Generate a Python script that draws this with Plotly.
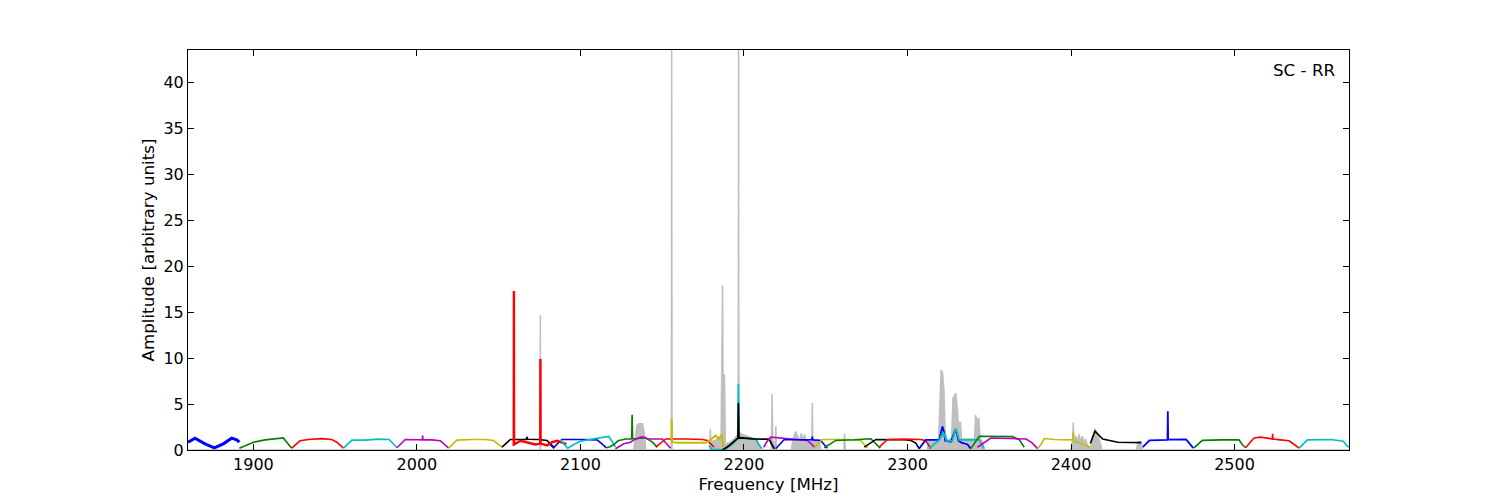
import plotly.graph_objects as go

# raw spectrum (grey, filled)
gray_f = [1860, 2075.3, 2075.5, 2075.7, 2132.5, 2133.5, 2134.5, 2135.5, 2138, 2139, 2140,
          2155.6, 2155.8, 2156.0, 2179, 2179.4, 2179.8, 2183, 2186, 2186.9, 2187.4, 2188.1,
          2188.6, 2192, 2195, 2196.5, 2196.7, 2196.9, 2199, 2202, 2205, 2208, 2210,
          2216.8, 2217.2, 2217.6, 2219.2, 2219.5, 2219.8, 2229, 2230, 2231.5, 2233, 2234,
          2235, 2236, 2237, 2238, 2241.5, 2241.8, 2242.1, 2246, 2247, 2261, 2261.5, 2262,
          2312, 2313, 2319, 2319.8, 2320.6, 2321.4, 2322.3, 2323, 2324, 2327, 2327.8, 2328.6,
          2329.5, 2330.5, 2331, 2332.4, 2333, 2341, 2341.6, 2342.8, 2343.6, 2344.4, 2346, 2347,
          2400, 2401, 2401.4, 2401.8, 2403, 2404, 2405, 2406, 2407, 2408, 2409, 2410, 2412,
          2413, 2414.7, 2417, 2419, 2440, 2441, 2443, 2443.5, 2570]
gray_a = [0, 0, 14.65, 0, 0, 1.4, 2.6, 2.85, 2.85, 1.8, 0,
          0, 45, 0, 0, 2.3, 0.9, 1.1, 1.5, 17.9, 1.2, 8.2,
          0.6, 0.9, 1.4, 1.8, 45, 1.9, 1.7, 1.5, 1.3, 1.0, 0,
          0, 6.1, 0.9, 0.9, 2.6, 0, 0, 1.2, 2.0, 1.5, 1.0,
          1.8, 1.0, 1.7, 1.0, 1.0, 5.1, 1.0, 1.1, 0, 0, 1.8, 0,
          0, 1.0, 1.1, 5.0, 8.7, 8.4, 6.5, 2.0, 1.1, 1.2, 5.6, 5.9,
          6.2, 4.5, 3.0, 3.0, 1.2, 1.2, 3.8, 3.0, 3.5, 1.2, 0.9, 0,
          0, 1.1, 3.0, 1.1, 1.5, 0.9, 1.7, 0.9, 1.5, 0.8, 1.2, 0.5, 0,
          1.4, 2.3, 1.3, 0, 0, 0.9, 0.9, 0, 0]

# corrected channels
ch01_f = [1860, 1864.3, 1870.4, 1876.1, 1881.6, 1886.7, 1889.8, 1891.4]
ch01_a = [0.85, 1.29, 0.67, 0.24, 0.67, 1.29, 1.1, 0.85]
ch02_f = [1891.4, 1894.9, 1900, 1907.1, 1913.2, 1918.3, 1920.4, 1923.4]
ch02_a = [0.2, 0.49, 0.85, 1.1, 1.2, 1.31, 0.85, 0.2]
ch03_f = [1923.4, 1926, 1928.5, 1933.6, 1941.8, 1947.9, 1951, 1955.1]
ch03_a = [0.2, 0.6, 1.0, 1.14, 1.24, 1.14, 0.85, 0.2]
ch04_f = [1955.1, 1957.5, 1960.2, 1968.4, 1976.5, 1983, 1985.5, 1987.8]
ch04_a = [0.2, 0.6, 1.07, 1.07, 1.18, 1.14, 0.7, 0.24]
ch05_f = [1987.8, 1990.3, 1992.9, 2001, 2003.3, 2003.5, 2003.7, 2009.2, 2014.3, 2017, 2019.4]
ch05_a = [0.24, 0.7, 1.14, 1.12, 1.1, 1.58, 1.1, 1.1, 1.0, 0.6, 0.2]
ch06_f = [2019.4, 2022, 2024.5, 2033, 2041.8, 2046.8, 2049.5, 2052]
ch06_a = [0.2, 0.6, 1.07, 1.14, 1.14, 1.03, 0.7, 0.31]
ch07_f = [2052, 2054.5, 2057.1, 2066.8, 2067.3, 2067.8, 2074.5, 2079.6, 2081.6, 2083.6]
ch07_a = [0.31, 0.75, 1.14, 1.14, 1.4, 1.16, 1.14, 1.03, 0.7, 0.31]
ch08_f = [2080.6, 2083.6, 2086, 2088.7, 2099.9, 2110.1, 2113, 2115.8]
ch08_a = [0.74, 0.24, 0.7, 1.14, 1.14, 1.1, 0.7, 0.24]
ch09_f = [2059.2, 2059.3, 2059.4, 2063.3, 2067.4, 2072.5, 2075.4, 2075.5, 2075.6, 2079.6,
          2082.7, 2085.7, 2088.8, 2091.4]
ch09_a = [0.5, 17.3, 0.6, 1.0, 0.85, 0.6, 0.7, 9.9, 0.7, 0.5, 0.85, 1.0, 0.85, 0.65]
ch10_f = [2087.7, 2090, 2092.2, 2096, 2099.9, 2108.1, 2117.3, 2119.5, 2121.4]
ch10_a = [1.1, 0.6, 0.2, 0.6, 0.96, 1.21, 1.47, 0.9, 0.31]
ch11_f = [2115.8, 2118, 2120.5, 2123, 2127.6, 2131.3, 2131.6, 2131.9, 2139.9, 2144, 2147]
ch11_a = [0.24, 0.35, 0.6, 1.0, 1.2, 1.2, 3.83, 1.2, 1.33, 0.85, 0.31]
ch12_f = [2121.4, 2126.5, 2130.6, 2132.7, 2136.8, 2138.8, 2140.9, 2150.1, 2152.5, 2155.2]
ch12_a = [0.13, 0.68, 0.85, 1.1, 1.4, 1.4, 1.2, 1.2, 0.7, 0.2]
ch13_f = [2146, 2149, 2152.1, 2164.4, 2174.6, 2177.6, 2179.8, 2181.7]
ch13_a = [0.31, 0.8, 1.2, 1.2, 1.15, 1.03, 0.6, 0.31]
ch14_f = [2155.7, 2155.8, 2156.0, 2160.3, 2176.6, 2179.5, 2182.7, 2184.4, 2186.4, 2187.4]
ch14_a = [0.9, 3.4, 0.85, 0.78, 0.78, 1.1, 1.58, 1.2, 1.65, 0.31]
ch15_f = [2178.7, 2180.4, 2186.9, 2188.9, 2193, 2196.3, 2196.6, 2196.9, 2207.3, 2209, 2211]
ch15_a = [0.49, 0.05, 0.05, 0.1, 0.67, 1.29, 7.2, 1.29, 1.2, 0.6, 0.13]
ch16_f = [2186.9, 2191, 2196.3, 2196.6, 2196.9, 2198.1, 2205.3, 2215.5, 2217, 2218.6]
ch16_a = [0.0, 0.49, 1.29, 5.1, 1.3, 1.33, 1.2, 1.18, 0.6, 0.13]
ch17_f = [2212, 2214, 2216.3, 2228.5, 2238.7, 2241, 2243.2]
ch17_a = [0.3, 0.9, 1.4, 1.22, 1.04, 0.7, 0.31]
ch18_f = [2219.4, 2222, 2224.5, 2241.5, 2241.8, 2242.1, 2247, 2249, 2251]
ch18_a = [0.13, 0.6, 1.11, 1.11, 1.45, 1.1, 1.04, 0.6, 0.2]
ch19_f = [2243.2, 2245.5, 2247.9, 2263.2, 2271.4, 2273.5, 2275.5]
ch19_a = [0.31, 0.75, 1.15, 1.15, 1.04, 0.6, 0.2]
ch20_f = [2249, 2252.5, 2256.2, 2267.4, 2277.6, 2280.5, 2283.3]
ch20_a = [0.24, 0.6, 1.04, 1.11, 1.22, 0.7, 0.2]
ch21_f = [2273.6, 2277, 2280.7, 2298.1, 2302.1, 2305.1, 2307.2]
ch21_a = [0.31, 0.75, 1.15, 1.11, 1.04, 0.75, 0.13]
ch22_f = [2282.7, 2285.3, 2287.8, 2298.1, 2308.3, 2311.2, 2314.3]
ch22_a = [0.31, 0.75, 1.15, 1.18, 1.15, 1.0, 0.15]
ch23_f = [2307.1, 2309, 2311.2, 2319.4, 2320.4, 2321.4, 2322.3, 2323.1, 2326.5, 2328.2,
          2329.2, 2330.2, 2331.2, 2333, 2336.7, 2338.7]
ch23_a = [0.15, 0.6, 1.1, 1.1, 2.0, 2.56, 2.0, 1.0, 0.9, 1.8, 2.2, 1.8, 1.0, 0.8, 0.6, 0.15]
ch24_f = [2313.2, 2316, 2319.4, 2320.6, 2321.8, 2323, 2323.9, 2327.5, 2328.5, 2329.6,
          2330.6, 2331.6, 2343.9, 2345.5, 2346.9]
ch24_a = [0.15, 0.6, 1.1, 1.5, 1.9, 1.5, 1.0, 1.0, 1.8, 2.3, 1.8, 1.1, 1.1, 0.6, 0.15]
ch25_f = [2338.7, 2341, 2343.9, 2364.3, 2368.4, 2371.4]
ch25_a = [0.15, 0.8, 1.5, 1.45, 1.1, 0.3]
ch26_f = [2342.8, 2347, 2351, 2362, 2372.5, 2376, 2379.6]
ch26_a = [0.3, 0.8, 1.3, 1.25, 1.2, 0.8, 0.15]
ch27_f = [2379.6, 2381.6, 2383.7, 2390, 2400, 2401.2, 2401.4, 2401.6, 2405, 2409, 2411.8]
ch27_a = [0.15, 0.6, 1.25, 1.15, 1.1, 1.2, 1.9, 1.0, 0.8, 0.55, 0.3]
ch28_f = [2411.8, 2413.5, 2414.7, 2419.4, 2428.6, 2442.9]
ch28_a = [0.7, 1.6, 2.05, 1.2, 0.85, 0.8]
ch29_f = [2443.9, 2446, 2448, 2459, 2459.2, 2459.4, 2470.4, 2472.5, 2474.8]
ch29_a = [0.3, 0.7, 1.05, 1.1, 4.2, 1.12, 1.15, 0.7, 0.2]
ch30_f = [2475.2, 2477.7, 2480.3, 2492, 2502.7, 2504.7, 2506.8]
ch30_a = [0.24, 0.6, 1.05, 1.1, 1.1, 0.6, 0.24]
ch31_f = [2506.8, 2509.3, 2511.9, 2516, 2522.1, 2523.1, 2523.3, 2523.5, 2528, 2533.4,
          2536.5, 2539.5]
ch31_a = [0.24, 0.8, 1.3, 1.4, 1.2, 1.2, 1.75, 1.2, 1.1, 1.0, 0.6, 0.2]
ch32_f = [2539.5, 2542, 2544.6, 2558.9, 2564, 2566.5, 2568.5, 2570]
ch32_a = [0.2, 0.6, 1.1, 1.15, 1.05, 0.95, 0.5, 0.3]

# old matplotlib single-letter colours
C = {"b": "#0000ff", "g": "#008000", "r": "#ff0000", "c": "#00bfbf",
     "m": "#bf00bf", "y": "#bfbf00", "k": "#000000"}

channels = [
    (ch01_f, ch01_a, "b", 3.0), (ch02_f, ch02_a, "g", 1.6), (ch03_f, ch03_a, "r", 1.6),
    (ch04_f, ch04_a, "c", 1.6), (ch05_f, ch05_a, "m", 1.6), (ch06_f, ch06_a, "y", 1.6),
    (ch07_f, ch07_a, "k", 1.6), (ch08_f, ch08_a, "b", 1.6), (ch09_f, ch09_a, "r", 2.4),
    (ch10_f, ch10_a, "c", 1.6), (ch11_f, ch11_a, "g", 1.6), (ch12_f, ch12_a, "m", 1.6),
    (ch13_f, ch13_a, "r", 1.6), (ch14_f, ch14_a, "y", 2.0), (ch15_f, ch15_a, "c", 1.8),
    (ch16_f, ch16_a, "k", 1.8), (ch17_f, ch17_a, "m", 1.6), (ch18_f, ch18_a, "b", 1.6),
    (ch19_f, ch19_a, "y", 1.6), (ch20_f, ch20_a, "g", 1.6), (ch21_f, ch21_a, "k", 1.6),
    (ch22_f, ch22_a, "r", 1.6), (ch23_f, ch23_a, "b", 1.8), (ch24_f, ch24_a, "c", 1.8),
    (ch25_f, ch25_a, "g", 1.6), (ch26_f, ch26_a, "m", 1.6), (ch27_f, ch27_a, "y", 1.6),
    (ch28_f, ch28_a, "k", 1.6), (ch29_f, ch29_a, "b", 1.8), (ch30_f, ch30_a, "g", 1.6),
    (ch31_f, ch31_a, "r", 1.6), (ch32_f, ch32_a, "c", 1.6),
]

fig = go.Figure()
fig.add_trace(go.Scatter(
    x=gray_f, y=gray_a, mode="lines", fill="tozeroy",
    line=dict(color="#bfbfbf", width=1.5), fillcolor="#bfbfbf",
    showlegend=False, hoverinfo="skip"
))
for f, a, col, lw in channels:
    fig.add_trace(go.Scatter(
        x=f, y=a, mode="lines", line=dict(color=C[col], width=lw),
        showlegend=False, hoverinfo="skip"
    ))

axis_style = dict(
    showgrid=False, zeroline=False, showline=True, linecolor="black", linewidth=1,
    mirror="ticks", ticks="inside", ticklen=6, tickcolor="black", tickwidth=1,
    tickfont=dict(size=16, color="black"), automargin=False,
)
fig.update_xaxes(range=[1860, 2570], tickvals=[1900, 2000, 2100, 2200, 2300, 2400, 2500],
                 title=dict(text="Frequency [MHz]", font=dict(size=16.7), standoff=4),
                 **axis_style)
fig.update_yaxes(range=[0, 43.5], tickvals=[0, 5, 10, 15, 20, 25, 30, 35, 40],
                 title=dict(text="Amplitude [arbitrary units]", font=dict(size=16.7), standoff=4),
                 **axis_style)

fig.add_annotation(text="SC - RR", xref="paper", yref="paper", x=0.99, y=0.95,
                   xanchor="right", yanchor="middle", showarrow=False,
                   font=dict(size=16.7, color="black"))

fig.update_layout(
    width=1500, height=500, autosize=False,
    margin=dict(l=188, r=151, t=50, b=50),
    paper_bgcolor="white", plot_bgcolor="white",
    font=dict(family="DejaVu Sans", color="black"),
)

# page body has a default 8px margin; drop it so the figure sits at 0,0
fig.write_html("out.html", config={"displayModeBar": False},
               post_script="document.body.style.margin = '0';")
